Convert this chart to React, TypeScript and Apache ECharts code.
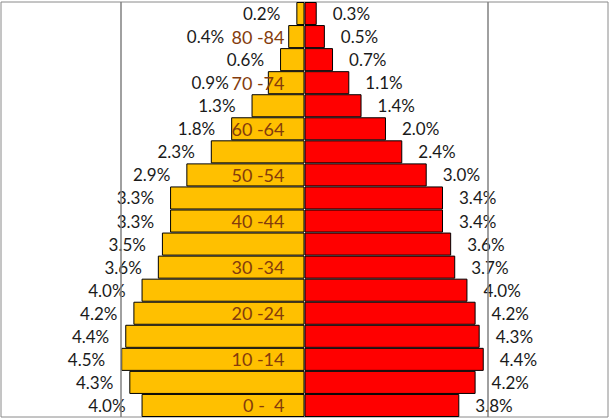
import React, { useEffect, useRef } from "react";
import * as echarts from "echarts";

const categories = [
  "0 -  4", "5 -  9", "10 -14", "15 -19", "20 -24", "25 -29", "30 -34", "35 -39", "40 -44",
  "45 -49", "50 -54", "55 -59", "60 -64", "65 -69", "70 -74", "75 -79", "80 -84", "85+",
];
const leftValues = [4.0, 4.3, 4.5, 4.4, 4.2, 4.0, 3.6, 3.5, 3.3, 3.3, 2.9, 2.3, 1.8, 1.3, 0.9, 0.6, 0.4, 0.2];
const rightValues = [3.8, 4.2, 4.4, 4.3, 4.2, 4.0, 3.7, 3.6, 3.4, 3.4, 3.0, 2.4, 2.0, 1.4, 1.1, 0.7, 0.5, 0.3];
const gridMarks = [-4.5, 4.5];

const FONT = "Lato";

// value labels pushed left of the age label where it sticks out of a short bar
const leftLabelDistance: Record<number, number> = { 14: 39, 16: 64 };

export default function App() {
  const ref = useRef<HTMLDivElement>(null);
  useEffect(() => {
    document.body.style.margin = "0";
    const chart = echarts.init(ref.current!, null, { renderer: "svg" });
    const fmt = (p: any) => Math.abs(p.value).toFixed(1) + "%";
    const catLabelData = categories
      .map((c, i) => [0, i])
      .filter((d) => d[1] % 2 === 0);
    chart.setOption({
      animation: false,
      backgroundColor: "#fff",
      grid: {
        left: 1, right: 1, top: 2, bottom: 2,
        show: true, borderColor: "#8a8a8a", borderWidth: 1,
        outerBoundsMode: "none",
        containLabel: false,
      },
      xAxis: {
        type: "value",
        min: -7.45,
        max: 7.45,
        show: false,
      },
      yAxis: {
        type: "category",
        data: categories,
        axisLine: { show: false },
        axisTick: { show: false },
        splitLine: { show: false },
        axisLabel: { show: false },
      },
      series: [
        {
          type: "bar",
          stack: "pop",
          data: leftValues.map((v, i) =>
            leftLabelDistance[i] !== undefined
              ? { value: -v, label: { distance: leftLabelDistance[i] } }
              : -v
          ),
          barCategoryGap: 0,
          itemStyle: { color: "#FFC000", borderColor: "#000", borderWidth: 1 },
          label: {
            show: true,
            position: "left",
            distance: 16,
            formatter: fmt,
            color: "#1a1a1a",
            fontFamily: FONT,
            fontSize: 17,
          },
        },
        {
          type: "bar",
          stack: "pop",
          data: rightValues,
          barCategoryGap: 0,
          itemStyle: { color: "#FF0000", borderColor: "#000", borderWidth: 1 },
          label: {
            show: true,
            position: "right",
            distance: 16,
            formatter: fmt,
            color: "#1a1a1a",
            fontFamily: FONT,
            fontSize: 17,
          },
          markLine: {
            silent: true,
            symbol: "none",
            label: { show: false },
            lineStyle: { color: "#808080", type: "solid", width: 1.5 },
            data: gridMarks.map((x) => ({ xAxis: x })),
          },
        },
        {
          type: "scatter",
          data: catLabelData,
          symbolSize: 0,
          z: 10,
          silent: true,
          itemStyle: { opacity: 1 },
          label: {
            show: true,
            position: "left",
            distance: 20,
            formatter: (p: any) => categories[p.value[1]],
            color: "#843C0C",
            opacity: 1,
            fontFamily: FONT,
            fontSize: 18,
            padding: [3, 0, 0, 0],
          },
        },
      ],
    });
    return () => chart.dispose();
  }, []);
  return <div ref={ref} style={{ width: 609, height: 419 }} />;
}
